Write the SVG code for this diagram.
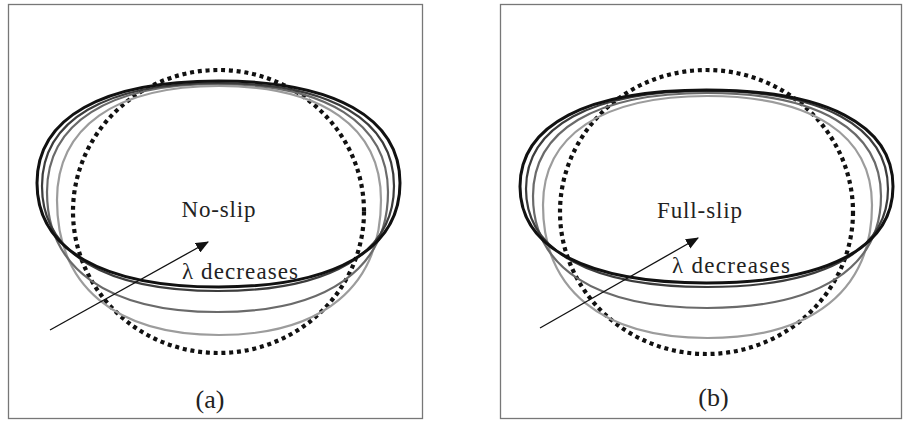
<svg xmlns="http://www.w3.org/2000/svg" width="903" height="421" viewBox="0 0 903 421">
<style>
.frame{fill:none;stroke:#777;stroke-width:1.3}
.c1{fill:none;stroke:#111;stroke-width:3}
.c2{fill:none;stroke:#3c3c3c;stroke-width:2.2}
.c3{fill:none;stroke:#6a6a6a;stroke-width:2.2}
.c4{fill:none;stroke:#9c9c9c;stroke-width:2.2}
.dot{fill:none;stroke:#111;stroke-width:4.2;stroke-dasharray:4 3.8}
.t{font-family:"Liberation Serif","Times New Roman",serif;font-size:23px;fill:#222}
.lbl{font-family:"Liberation Serif","Times New Roman",serif;font-size:26px;fill:#222}
.arr{fill:none;stroke:#111;stroke-width:1.3}
</style>
<defs>
<marker id="ah" viewBox="0 0 12 10" refX="11" refY="5" markerWidth="13" markerHeight="11" markerUnits="userSpaceOnUse" orient="auto">
<path d="M0,0 L12,5 L0,10 Z" fill="#111"/>
</marker>
</defs>
<rect fill="#fff" x="0" y="0" width="903" height="421"/>
<g id="panel-a">
<rect class="frame" x="8.5" y="4.5" width="414" height="414"/>
<ellipse class="dot" cx="218.5" cy="211.5" rx="145.5" ry="141.5"/>
<path class="c4" d="M57,200 C57,127 115.3,86 219,86 C322.7,86 381,127 381,200 C381,286.4 322.7,335 219,335 C115.3,335 57,286.4 57,200 Z"/>
<path class="c3" d="M47,192 C47,122.9 108.4,84 217.5,84 C326.6,84 388,122.9 388,192 C388,268.8 326.6,312 217.5,312 C108.4,312 47,268.8 47,192 Z"/>
<path class="c2" d="M42,186 C42,120.1 105.4,83 218,83 C330.6,83 394,120.1 394,186 C394,253.2 330.6,291 218,291 C105.4,291 42,253.2 42,186 Z"/>
<path class="c1" d="M37,183 C37,117.7 102.3,81 218.5,81 C334.7,81 400,117.7 400,183 C400,249.6 334.7,287 218.5,287 C102.3,287 37,249.6 37,183 Z"/>
<text class="t" x="218.5" y="217" text-anchor="middle" textLength="74">No-slip</text>
<text class="t" x="182" y="279" textLength="116">λ decreases</text>
<text class="lbl" x="210" y="408" text-anchor="middle">(a)</text>
</g>
<g id="panel-b">
<rect class="frame" x="500.5" y="4.5" width="401" height="414"/>
<ellipse class="dot" cx="706.5" cy="212" rx="146.5" ry="142"/>
<path class="c4" d="M543,205 C543,135.2 602.2,96 707.5,96 C812.8,96 872,135.2 872,205 C872,290.1 812.8,338 707.5,338 C602.2,338 543,290.1 543,205 Z"/>
<path class="c3" d="M533,196 C533,130.1 595.6,93 707,93 C818.4,93 881,130.1 881,196 C881,267.7 818.4,308 707,308 C595.6,308 533,267.7 533,196 Z"/>
<path class="c2" d="M526,189 C526,126.3 591.2,91 707,91 C822.8,91 888,126.3 888,189 C888,251.7 822.8,287 707,287 C591.2,287 526,251.7 526,189 Z"/>
<path class="c1" d="M520,186.5 C520,124.7 587.1,90 706.5,90 C825.9,90 893,124.7 893,186.5 C893,248.3 825.9,283 706.5,283 C587.1,283 520,248.3 520,186.5 Z"/>
<text class="t" x="699.5" y="218" text-anchor="middle" textLength="85">Full-slip</text>
<text class="t" x="672" y="273" textLength="118">λ decreases</text>
<text class="lbl" x="713.5" y="406" text-anchor="middle">(b)</text>
</g>
<g id="connectors">
<line class="arr" x1="50" y1="330" x2="208" y2="242" marker-end="url(#ah)"/>
<line class="arr" x1="540" y1="328" x2="698" y2="238" marker-end="url(#ah)"/>
</g>
</svg>
